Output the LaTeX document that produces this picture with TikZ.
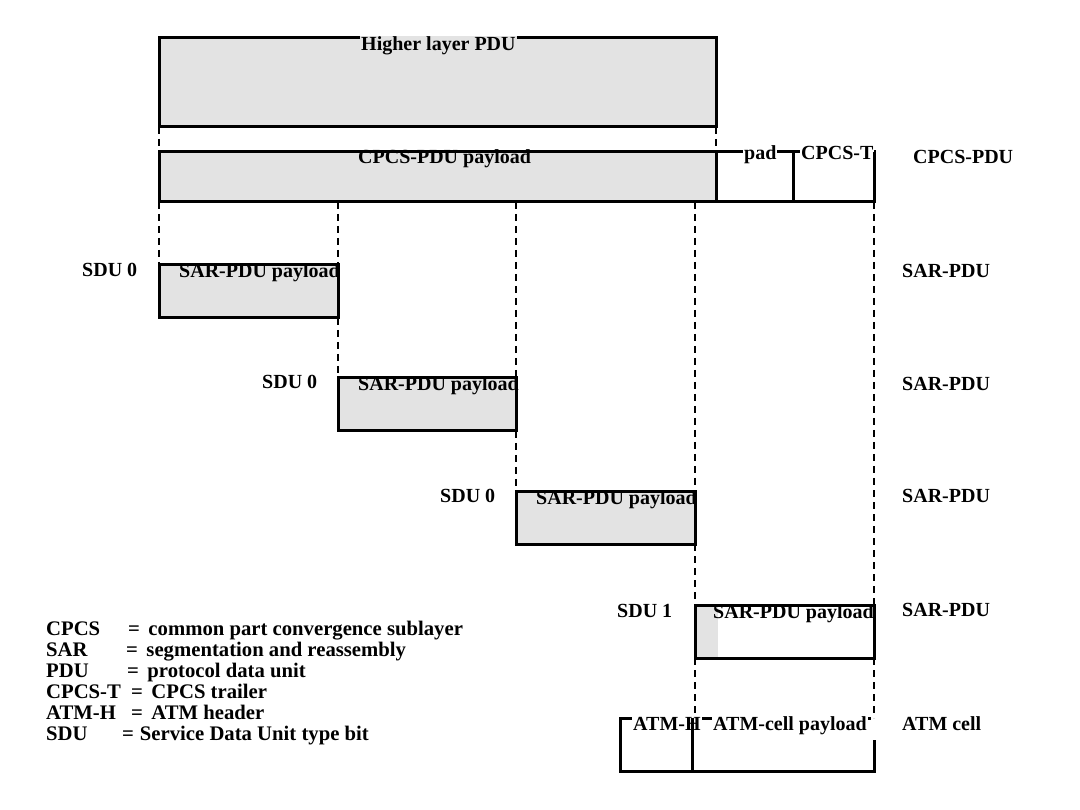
\documentclass[tikz,border=0pt]{standalone}
\usepackage{fontspec}
\setmainfont{Liberation Serif}
\definecolor{boxgray}{RGB}{227,227,227}
\begin{document}
\begin{tikzpicture}[x=1pt,y=-1pt,
  box/.style={fill=boxgray, draw=none, inner sep=0pt, outer sep=0pt, anchor=north west},
  wbox/.style={box, fill=white},
  intext/.style={font=\fontsize{20}{23}\selectfont\bfseries, inner sep=1pt, anchor=base west},
  lab/.style={font=\fontsize{20}{23}\selectfont\bfseries, inner sep=0pt, anchor=base west},
  leg/.style={font=\fontsize{20.7}{23}\selectfont\bfseries, inner sep=0pt, anchor=base west},
  edge/.style={draw=black, line width=3pt},
  conn/.style={draw=black, line width=2pt, dash pattern=on 7pt off 5pt}]
\useasboundingbox (0,0) rectangle (1080,810);
% box fills
\node[box, minimum width=557, minimum height=89] (hl) at (159,38) {};
\node[box, minimum width=557, minimum height=50] (cp) at (159,152) {};
\node[wbox, minimum width=77, minimum height=50] (pad) at (716,152) {};
\node[wbox, minimum width=81, minimum height=50] (ct) at (793,152) {};
\node[box, minimum width=179, minimum height=53] (s1) at (159,265) {};
\node[box, minimum width=178, minimum height=53] (s2) at (338,378) {};
\node[box, minimum width=179, minimum height=53] (s3) at (516,491) {};
\node[wbox, minimum width=179, minimum height=53] (s4) at (695,605) {};
\fill[boxgray] (695,605) rectangle (718,658);
\node[wbox, minimum width=72, minimum height=53] (ah) at (620,718) {};
\node[wbox, minimum width=182, minimum height=53] (ap) at (692,718) {};
% texts drawn under the borders
\node[intext] (cpt) at (357,164) {CPCS-PDU payload};
\node[intext] (s1t) at (178,278) {SAR-PDU payload};
\node[intext] (s2t) at (357,391) {SAR-PDU payload};
\node[intext] (s3t) at (535,504) {SAR-PDU payload};
\node[intext] (s4t) at (712,618) {SAR-PDU payload};
% borders
\draw[edge] (hl.north west) rectangle (hl.south east);
\draw[edge] (cp.north west) rectangle (cp.south east);
\draw[edge] (pad.north west) rectangle (pad.south east);
\draw[edge] (ct.north west) rectangle (ct.south east);
\draw[edge] (s1.north west) rectangle (s1.south east);
\draw[edge] (s2.north west) rectangle (s2.south east);
\draw[edge] (s3.north west) rectangle (s3.south east);
\draw[edge] (s4.north west) rectangle (s4.south east);
\draw[edge] (ah.north west) rectangle (ah.south east);
\draw[edge] (ap.north west) rectangle (ap.south east);
% texts covering the top borders
\node[intext, fill=boxgray] (hlt) at (360,51) {Higher layer PDU};
\node[intext, fill=white] (padt) at (743,160) {pad};
\node[intext, fill=white] (ctt) at (800,160) {CPCS-T};
\draw[edge] (ct.north east) -- (ct.south east);
\node[intext, fill=white] (aht) at (632,730) {ATM-H};
\node[intext, fill=white] (apt) at (712,730) {ATM-cell payload};
\draw[edge] (ap.north west) -- (ap.south west);
\fill[white] (871,716) rectangle (877,740);
% dashed connectors
\draw[conn] (hl.south west) -- (cp.north west);
\draw[conn] (hl.south east) -- (cp.north east);
\draw[conn] (cp.south west) -- (s1.north west);
\draw[conn] (s1.north east |- cp.south) -- (s1.north east);
\draw[conn] (s1.south east) -- (s2.north west);
\draw[conn] (s2.north east |- cp.south) -- (s2.north east);
\draw[conn] (s2.south east) -- (s3.north west);
\draw[conn] (s3.north east |- cp.south) -- (s3.north east);
\draw[conn] (s3.south east) -- (s4.north west);
\draw[conn] (ct.south east) -- (s4.north east);
\draw[conn] (s4.south west) -- (ap.north west -| s4.south west);
\draw[conn] (s4.south east) -- (ap.north east);
% right labels
\node[lab] (l0) at (913,164) {CPCS-PDU};
\node[lab] (l1) at (902,278) {SAR-PDU};
\node[lab] (l2) at (902,391) {SAR-PDU};
\node[lab] (l3) at (902,503) {SAR-PDU};
\node[lab] (l4) at (902,616) {SAR-PDU};
\node[lab] (l5) at (902,730) {ATM cell};
% SDU labels
\node[lab] (d1) at (82,277) {SDU 0};
\node[lab] (d2) at (262,389) {SDU 0};
\node[lab] (d3) at (440,503) {SDU 0};
\node[lab] (d4) at (617,617) {SDU 1};
% legend
\node[leg] (k1) at (46,635.5) {CPCS};
\node[leg] (v1) at (128,635.5) {=\hspace{8.5pt}common part convergence sublayer};
\node[leg] (k2) at (46,656.5) {SAR};
\node[leg] (v2) at (126,656.5) {=\hspace{8.5pt}segmentation and reassembly};
\node[leg] (k3) at (46,677.5) {PDU};
\node[leg] (v3) at (127,677.5) {=\hspace{8.5pt}protocol data unit};
\node[leg] (k4) at (46,698.5) {CPCS-T};
\node[leg] (v4) at (131,698.5) {=\hspace{8.5pt}CPCS trailer};
\node[leg] (k5) at (46,719.5) {ATM-H};
\node[leg] (v5) at (131,719.5) {=\hspace{8.5pt}ATM header};
\node[leg] (k6) at (46,740.5) {SDU};
\node[leg] (v6) at (122,740.5) {=\hspace{6pt}Service Data Unit type bit};
\end{tikzpicture}
\end{document}
